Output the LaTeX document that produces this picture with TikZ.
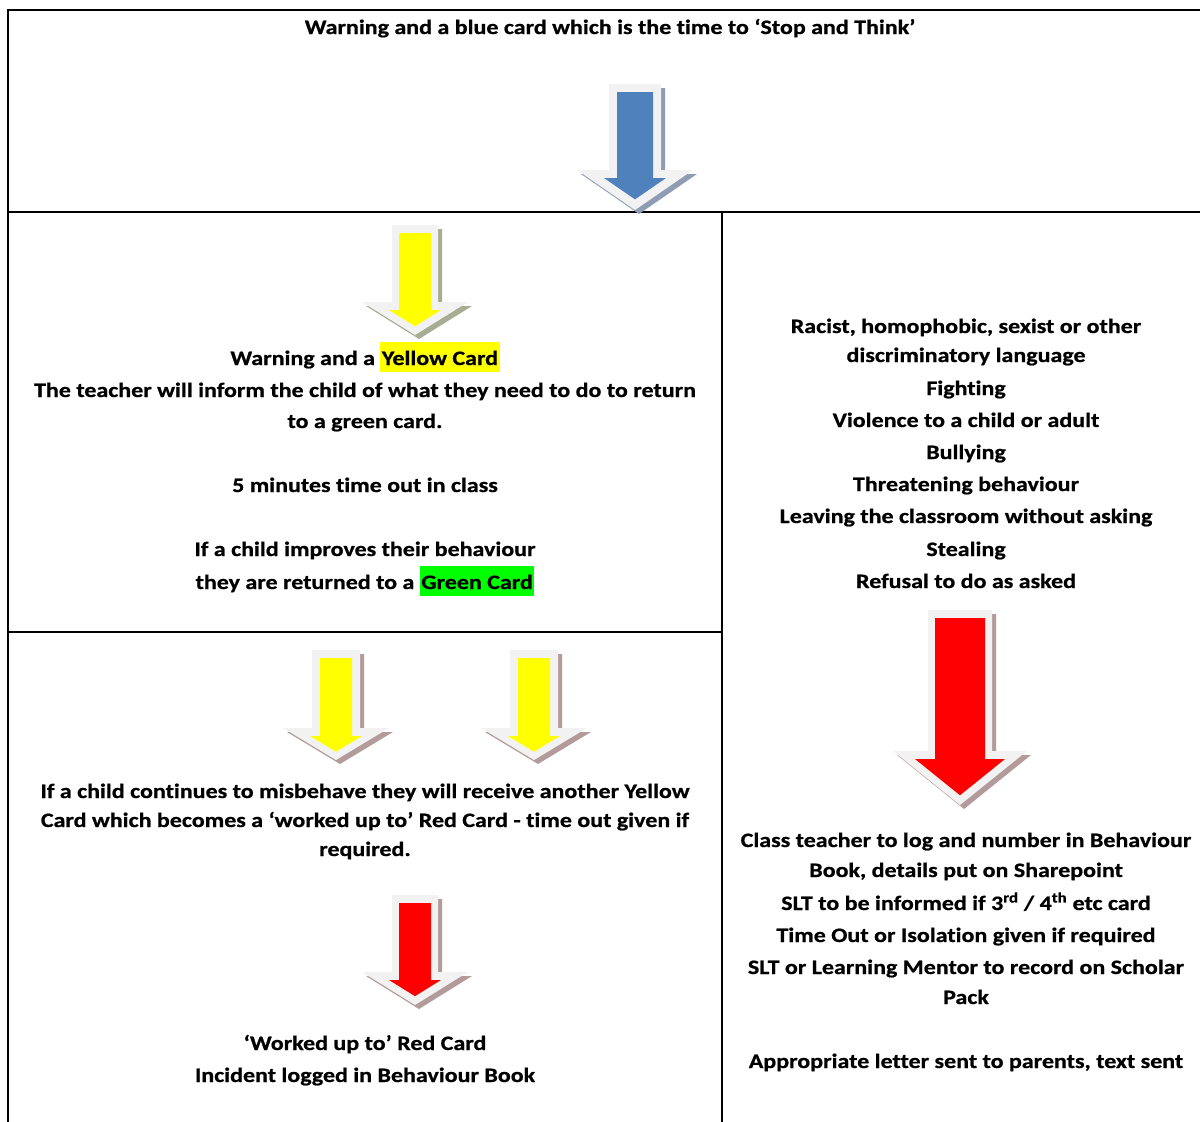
\documentclass[tikz,border=0pt]{standalone}
\usepackage{fontspec}
\setmainfont{Carlito}[FakeStretch=1.17, Ligatures={NoCommon}, BoldFeatures={FakeBold=0.8}]
\usetikzlibrary{calc}
\definecolor{rimgray}{HTML}{F2F2F2}
\definecolor{shblue}{HTML}{8E9DB3}
\definecolor{shyel}{HTML}{A7AD93}
\definecolor{shred}{HTML}{B49B9B}
\definecolor{arrblue}{HTML}{4F81BD}
\definecolor{arryel}{HTML}{FFFF00}
\definecolor{arrred}{HTML}{FF0000}
\definecolor{hlgreen}{HTML}{00FF00}
\newcommand\FatArrow[9]{%
  \fill[arrshadow] ({#1-#3+4},{#2+4}) -- ({#1+#3+4},{#2+4}) -- ({#1+#3+4},{#2+#4+4}) -- ({#1+#5+4},{#2+#4+4}) -- ({#1+4},{#2+#6+4}) -- ({#1-#5+4},{#2+#4+4}) -- ({#1-#3+4},{#2+#4+4}) -- cycle;
  \fill[rimgray] ({#1-#3},{#2}) -- ({#1+#3},{#2}) -- ({#1+#3},{#2+#4}) -- ({#1+#5},{#2+#4}) -- ({#1},{#2+#6}) -- ({#1-#5},{#2+#4}) -- ({#1-#3},{#2+#4}) -- cycle;
  \fill[#9] ({#1-#7},{#2+8}) -- ({#1+#7},{#2+8}) -- ({#1+#7},{#2+#4+8}) -- ({#1+#8},{#2+#4+8}) -- ({#1},{#2+#4+8+#8*(#6-#4)/#5}) -- ({#1-#8},{#2+#4+8}) -- ({#1-#7},{#2+#4+8}) -- cycle;
}
\newcommand\hlbox[2]{{\setlength{\fboxsep}{0pt}\colorbox{#1}{\rule[-7pt]{0pt}{30pt}\kern1.5pt#2\kern1.5pt}}}
\begin{document}
\begin{tikzpicture}[x=1pt,y=-1pt,
  txt/.style={anchor=base, inner sep=0pt, font=\fontsize{20.5}{24}\selectfont\bfseries},
  gridline/.style={line width=2pt, black}]
\useasboundingbox (0,0) rectangle (1200,1122);
\fill[white] (0,0) rectangle (1200,1122);
% table lines
\draw[gridline] (8,10) -- (1202,10);
\draw[gridline] (8,9) -- (8,1124);
\draw[gridline] (7,212) -- (1202,212);
\draw[gridline] (722,212) -- (722,1124);
\draw[gridline] (7,632) -- (722,632);
% arrows
\colorlet{arrshadow}{shblue}
\FatArrow{635}{84}{26}{86}{58}{126}{18}{31}{arrblue}
\colorlet{arrshadow}{shyel}
\FatArrow{415}{225}{23}{77}{53}{110}{16}{26}{arryel}
\colorlet{arrshadow}{shred}
\FatArrow{336}{650}{24}{78}{53}{110}{16}{26}{arryel}
\FatArrow{534}{650}{24}{78}{53}{110}{16}{26}{arryel}
\FatArrow{415}{895}{23}{77}{53}{110}{16}{26}{arrred}
\FatArrow{960}{610}{32}{141}{67}{195}{25}{45}{arrred}
% title
\node[txt] (t0) at (610,34) {Warning and a blue card which is the time to ‘Stop and Think’};
% left upper block
\node[txt] (a1) at (365,365) {Warning and a \hlbox{arryel}{Yellow Card}};
\node[txt] (a2) at (365,397) {The teacher will inform the child of what they need to do to return};
\node[txt] (a3) at (365,428) {to a green card.};
\node[txt] (a4) at (365,492) {5 minutes time out in class};
\node[txt] (a5) at (365,556) {If a child improves their behaviour};
\node[txt] (a6) at (365,589) {they are returned to a \hlbox{hlgreen}{Green Card}};
% right upper block
\node[txt] (b1) at (966,333) {Racist, homophobic, sexist or other};
\node[txt] (b2) at (966,362) {discriminatory language};
\node[txt] (b3) at (966,395) {Fighting};
\node[txt] (b4) at (966,427) {Violence to a child or adult};
\node[txt] (b5) at (966,459) {Bullying};
\node[txt] (b6) at (966,491) {Threatening behaviour};
\node[txt] (b7) at (966,523) {Leaving the classroom without asking};
\node[txt] (b8) at (966,556) {Stealing};
\node[txt] (b9) at (966,588) {Refusal to do as asked};
% left lower block
\node[txt] (c1) at (365,798) {If a child continues to misbehave they will receive another Yellow};
\node[txt] (c2) at (365,827) {Card which becomes a ‘worked up to’ Red Card - time out given if};
\node[txt] (c3) at (365,856) {required.};
\node[txt] (c4) at (365,1050) {‘Worked up to’ Red Card};
\node[txt] (c5) at (365,1082) {Incident logged in Behaviour Book};
% right lower block
\node[txt] (d1) at (966,847) {Class teacher to log and number in Behaviour};
\node[txt] (d2) at (966,877) {Book, details put on Sharepoint};
\node[txt] (d3) at (966,910) {SLT to be informed if 3\textsuperscript{rd} / 4\textsuperscript{th} etc card};
\node[txt] (d4) at (966,942) {Time Out or Isolation given if required};
\node[txt] (d5) at (966,974) {SLT or Learning Mentor to record on Scholar};
\node[txt] (d6) at (966,1004) {Pack};
\node[txt] (d7) at (966,1068) {Appropriate letter sent to parents, text sent};
\end{tikzpicture}
\end{document}
